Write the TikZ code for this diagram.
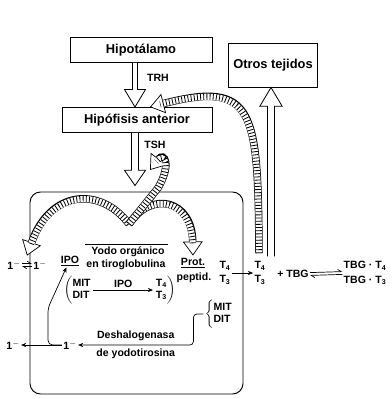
\documentclass[tikz,border=0pt]{standalone}
\usepackage{fontspec}
\setmainfont{Liberation Sans}
\usetikzlibrary{arrows.meta,positioning,calc}

% hollow (open) arrow, drawn as one outline: start, tip, half shaft, half head, head length (signed)
\newcommand{\hueca}[5]{%
  \draw[line width=0.7pt, fill=white, line join=miter]
    ($(#1)+(-#3,0)$) -- ($(#2)+(-#3,#5)$) -- ($(#2)+(-#4,#5)$) -- (#2)
    -- ($(#2)+(#4,#5)$) -- ($(#2)+(#3,#5)$) -- ($(#1)+(#3,0)$);}

\tikzset{
  every picture/.append style={font=\bfseries\fontsize{9}{10}\selectfont, >=Stealth},
  caja/.style={rectangle, draw, line width=0.8pt, minimum height=0.75cm,
               inner sep=2pt, font=\bfseries\fontsize{11}{12}\selectfont},
  txt/.style={inner sep=1pt, align=center},
  flow/.style={-{Stealth[length=4.5pt,width=3.6pt]}, line width=0.6pt},
  harp/.style={-{Straight Barb[left,length=3pt,width=4pt]}, line width=0.6pt},
  hatch/.style={
    preaction={draw, line width=6.4pt,
      -{Triangle[length=12pt, width=17pt, fill=white, line width'=0.6pt]}},
    preaction={draw=white, line width=5.2pt, shorten >=9pt},
    preaction={draw, line width=5.2pt, dash pattern=on 0.7pt off 2pt, shorten >=9pt}},
}

\begin{document}
\begin{tikzpicture}[x=0.03cm, y=-0.03cm]
\useasboundingbox (0,0) rectangle (391,399);

% ======================= boxes =======================
\node[caja, minimum width=4.26cm] (hipo) at (141,50) {Hipotálamo};
\node[caja, minimum width=4.5cm] (hipof) at (137,120) {Hipófisis anterior};
\node[caja, minimum width=2.67cm, minimum height=1.32cm] (otros) at (273,65) {Otros tejidos};
\node[draw, rounded corners=9pt, line width=0.8pt,
      minimum width=6.39cm, minimum height=6.06cm] (tir) at (136.5,293) {};

\coordinate (ejeA) at (135,0);
\coordinate (ejeB) at (271,0);

% ======================= inside the thyroid =======================
\node[txt] (i1) at (14,265) {1$^-$};
\node[txt] (i2) at (40,265) {1$^-$};
\node[txt] (ipo) at (70,261) {\underline{IPO}};
\node[txt] (yodo) at (128,252) {Yodo orgánico};
\node[txt] (tiro) at (126,265) {en tiroglobulina};
\node[txt] (prot) at (193,263) {\underline{Prot.}};
\node[txt] (pept) at (194,278) {peptid.};
\node[txt] (tin) at (225,273) {T\textsubscript{4}\\[2pt]T\textsubscript{3}};
\node[txt] (mit) at (78,290) {$\left(\begin{tabular}{@{}l@{}}MIT\\DIT\end{tabular}\right.$};
\node[txt] (tp) at (165,290) {$\left.\begin{tabular}{@{}c@{}}T\textsubscript{4}\\T\textsubscript{3}\end{tabular}\right)$};
\node[txt] (md) at (219,314) {$\left\{\begin{tabular}{@{}l@{}}MIT\\DIT\end{tabular}\right.$};
\node[txt] (i3) at (70,345) {1$^-$};
\node[txt] (i4) at (13,345) {1$^-$};

% ======================= outside, right =======================
\node[txt] (tout) at (260,273) {T\textsubscript{4}\\[2pt]T\textsubscript{3}};
\node[txt] (tbg) at (293,274) {+ TBG};
\node[txt] (tbgc) at (365,273) {TBG · T\textsubscript{4}\\[2pt]TBG · T\textsubscript{3}};

% ======================= hollow arrows =======================
\hueca{ejeA |- hipo.south}{ejeA |- hipof.north}{2.2pt}{9pt}{15pt}
\node[txt] (trh) at (158,78) {TRH};
\hueca{ejeA |- hipof.south}{$(ejeA |- tir.north)+(0,-6)$}{3pt}{9pt}{13pt}
\node[txt] (tsh) at (155,145) {TSH};
\hueca{$(ejeB |- tout.north)+(0,-4)$}{ejeB |- otros.south}{3pt}{9.5pt}{-16pt}

% ======================= hatched arrows =======================
\coordinate (apex) at (129,224);
\coordinate (eqI) at ($(i1.east)!0.5!(i2.west)$);
\path[hatch] (apex) .. controls (100,186) and (50,190) .. ([yshift=8pt]eqI);
\path[hatch] (apex) .. controls (152,190) and (192,200) .. ([yshift=1pt]prot.north);
\path[hatch] (apex) -- (158,188) .. controls (172,164) and (164,152) .. (150,170);
\path[hatch] ([xshift=-0.03cm, yshift=6pt]tout.north)
  .. controls (258,110) and (255,80) .. ([xshift=0.39cm]hipof.north);

% ======================= thin arrows =======================
\draw[line width=0.6pt] ([xshift=-4pt,yshift=1.5pt]yodo.north west) -- ([xshift=2pt,yshift=1.5pt]yodo.north east);
\draw[harp] ([yshift=1.2pt]i1.east) -- ([yshift=1.2pt]i2.west);
\draw[harp] ([yshift=-1.2pt]i2.west) -- ([yshift=-1.2pt]i1.east);
\draw[flow] (mit.east) -- node[txt, above=1pt] {IPO} (tp.west);
\draw[flow] (tin.east) -- (tout.west);
\draw[harp] ([yshift=1.2pt]tbg.east) -- ([yshift=1.2pt]tbgc.west);
\draw[harp] ([yshift=-1.2pt]tbgc.west) -- ([yshift=-1.2pt]tbg.east);
\draw[flow, rounded corners=3pt] (md.west) -- ++(-10,0) |- (i3.east)
  node[txt, pos=0.75, above=2pt] {Deshalogenasa}
  node[txt, pos=0.75, below=2pt] {de yodotirosina};
\draw[flow] (i3.west) -- (i4.east);
\draw[flow, rounded corners=4pt] (i3.west) -- (48,345) -- (48,308) -- ([xshift=-3pt]ipo.south);

\end{tikzpicture}
\end{document}
